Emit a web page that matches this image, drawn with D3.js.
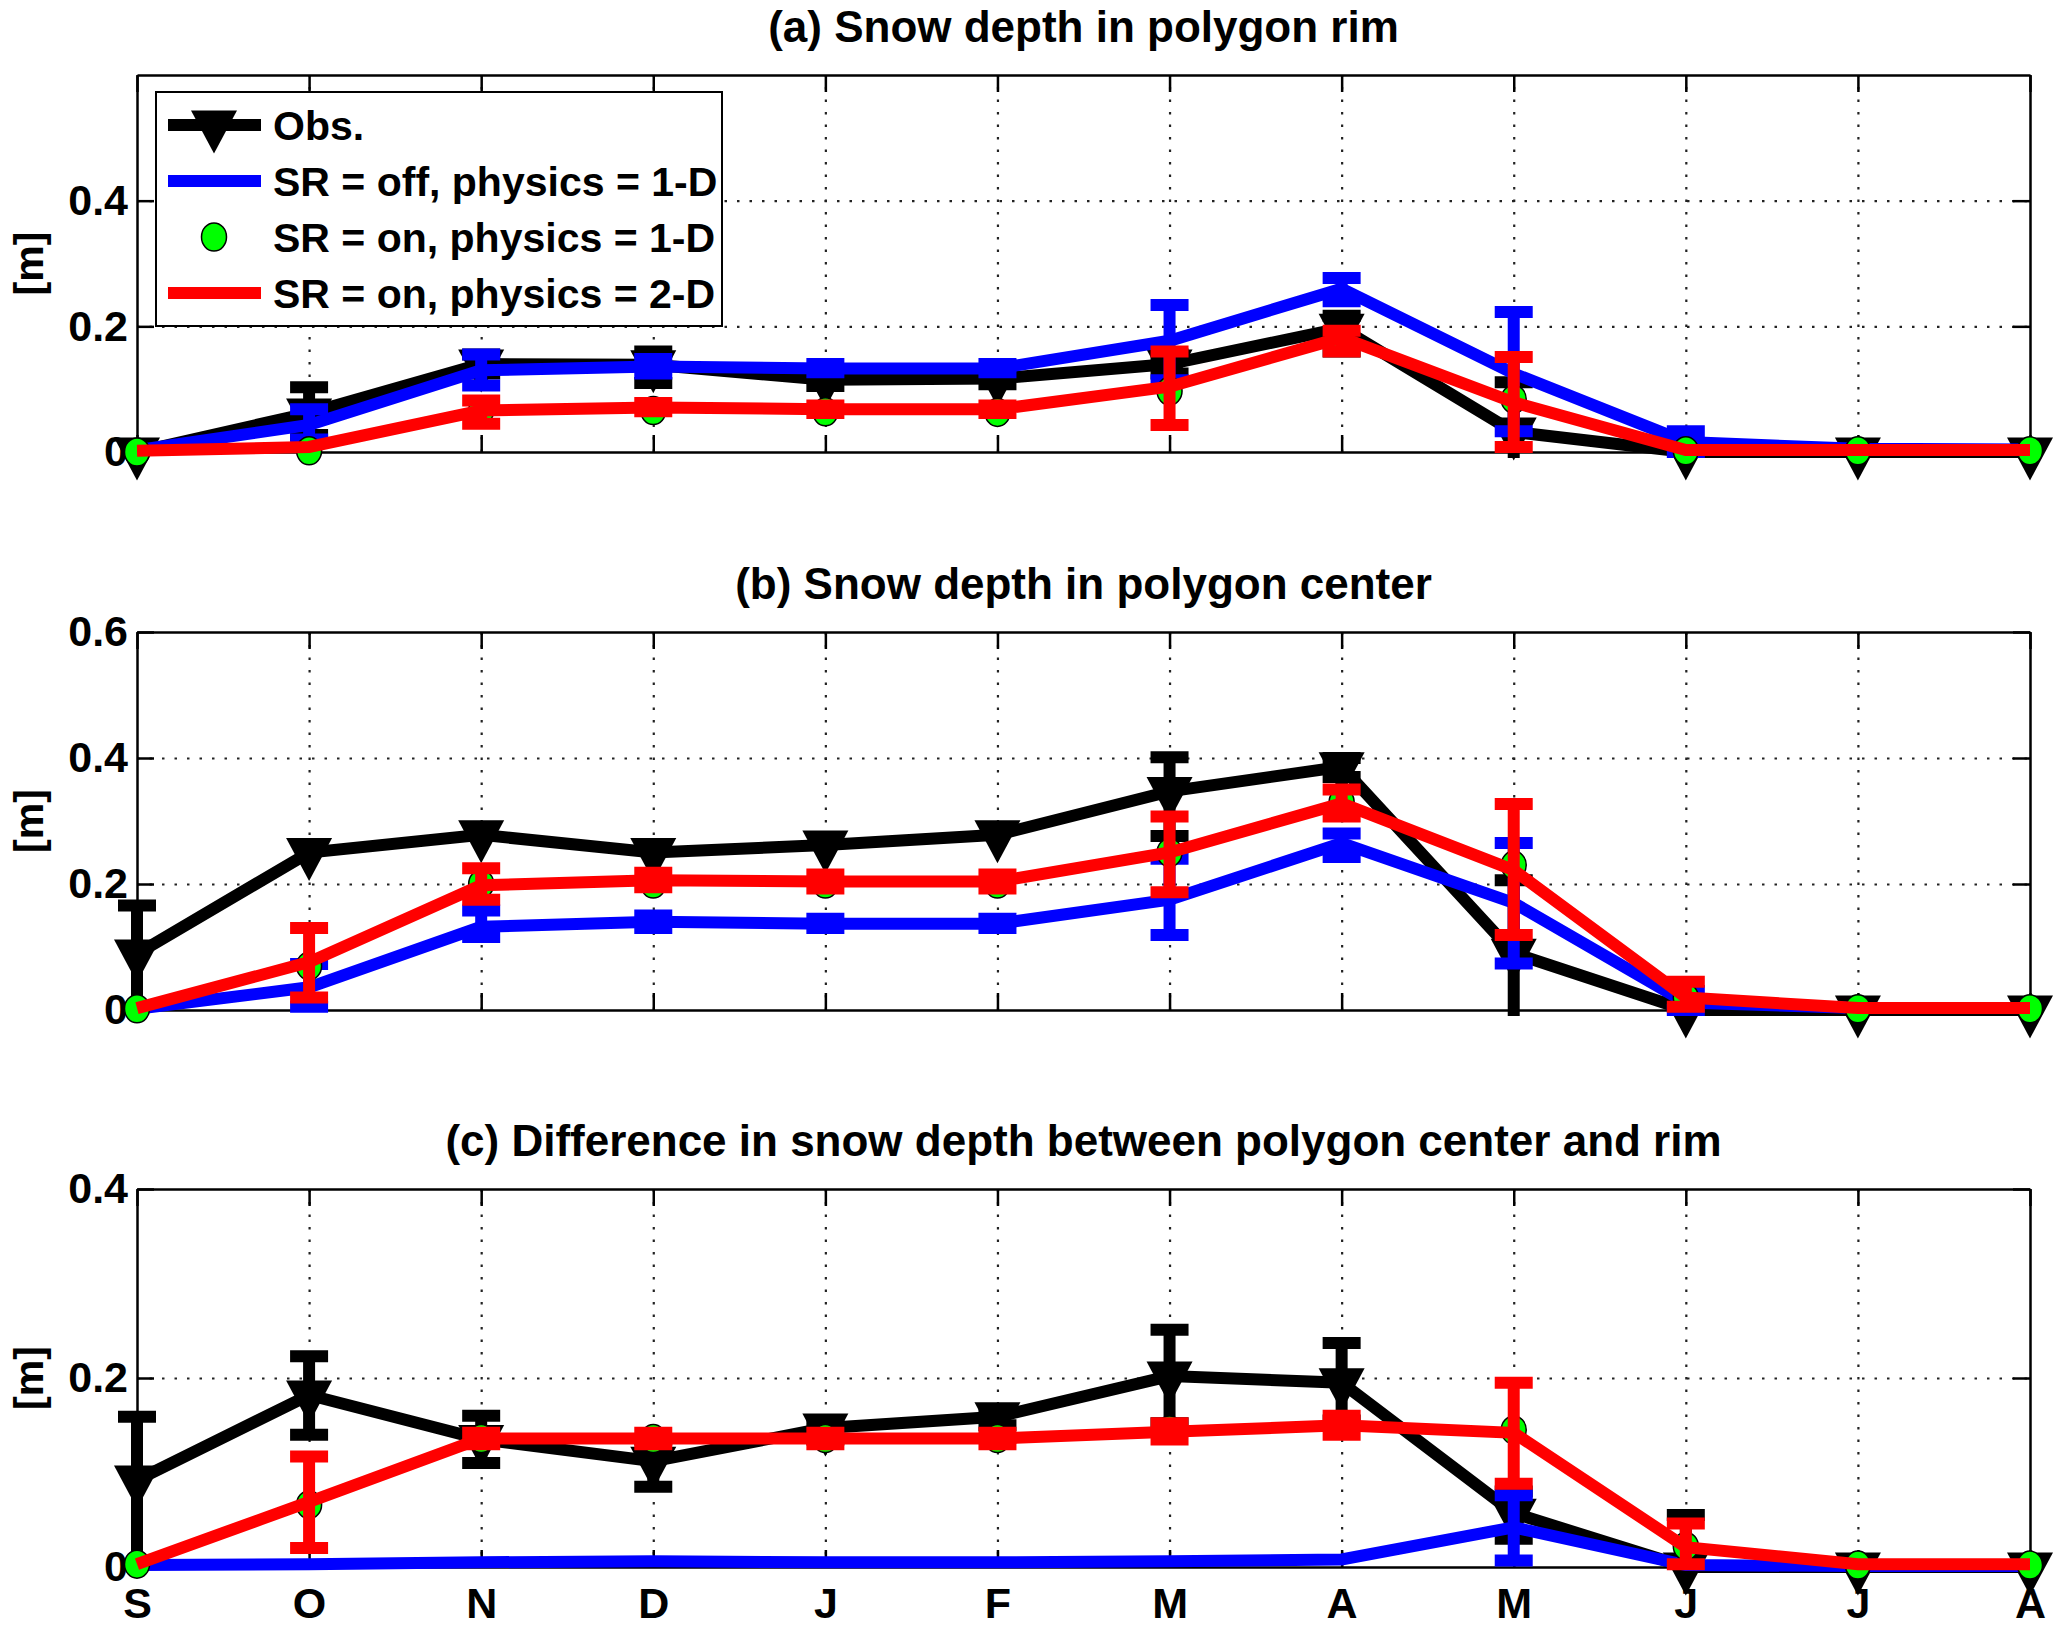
<!DOCTYPE html>
<html>
<head>
<meta charset="utf-8">
<script src="https://cdn.jsdelivr.net/npm/d3@7"></script>
<style>
  body { margin: 0; background: #fff; }
  svg { display: block; font-family: "Liberation Sans", Arial, Helvetica, sans-serif; font-weight: bold; }
</style>
</head>
<body>
<svg id="chart"></svg>
<script>
// month ticks (Sep .. Aug)
const months = ['S', 'O', 'N', 'D', 'J', 'F', 'M', 'A', 'M', 'J', 'J', 'A'];
const seriesNames = ['Obs.', 'SR = off, physics = 1-D', 'SR = on, physics = 1-D', 'SR = on, physics = 2-D'];
const panelTitles = [
  '(a) Snow depth in polygon rim',
  '(b) Snow depth in polygon center',
  '(c) Difference in snow depth between polygon center and rim'
];

// (a) rim
const rimObs    = [0, 0.062, 0.14, 0.139, 0.115, 0.117, 0.14, 0.197, 0.032, 0, 0, 0];
const rimObsLo  = [null, 0.027, 0.125, 0.11, 0.105, 0.108, 0.125, 0.16, -0.05, null, null, null];
const rimObsHi  = [null, 0.103, 0.155, 0.16, 0.125, 0.127, 0.155, 0.217, 0.111, null, null, null];
const rimOff    = [0.003, 0.043, 0.13, 0.136, 0.133, 0.133, 0.177, 0.26, 0.125, 0.016, 0.005, 0.004];
const rimOffLo  = [null, 0.02, 0.106, 0.125, 0.127, 0.127, 0.114, 0.24, 0.033, 0, null, null];
const rimOffHi  = [null, 0.068, 0.155, 0.148, 0.14, 0.14, 0.234, 0.277, 0.223, 0.033, null, null];
const rimOn1d   = [0, 0.002, 0.066, 0.066, 0.064, 0.063, 0.097, 0.18, 0.084, 0.002, 0.002, 0.002];
const rimOn2d   = [0.002, 0.008, 0.066, 0.071, 0.068, 0.068, 0.104, 0.182, 0.079, 0.003, 0.003, 0.003];
const rimOn2dLo = [null, null, 0.045, 0.065, 0.062, 0.062, 0.043, 0.16, 0.008, null, null, null];
const rimOn2dHi = [null, null, 0.082, 0.078, 0.074, 0.074, 0.16, 0.193, 0.151, null, null, null];

// (b) center
const cenObs    = [0.089, 0.25, 0.278, 0.25, 0.262, 0.278, 0.347, 0.386, 0.09, 0, 0, 0];
const cenObsLo  = [-0.05, null, null, null, null, null, 0.276, 0.37, -0.05, null, null, null];
const cenObsHi  = [0.166, null, null, null, null, null, 0.401, 0.4, 0.206, null, null, null];
const cenOff    = [0.002, 0.036, 0.132, 0.14, 0.137, 0.137, 0.175, 0.265, 0.17, 0.012, 0.003, 0.003];
const cenOffLo  = [null, 0.005, 0.116, 0.13, 0.13, 0.13, 0.119, 0.243, 0.074, 0, null, null];
const cenOffHi  = [null, 0.073, 0.158, 0.15, 0.145, 0.145, 0.24, 0.28, 0.265, 0.03, null, null];
const cenOn1d   = [0.002, 0.07, 0.2, 0.2, 0.2, 0.2, 0.25, 0.33, 0.23, 0.02, 0.002, 0.002];
const cenOn2d   = [0.003, 0.076, 0.198, 0.206, 0.204, 0.204, 0.25, 0.328, 0.222, 0.02, 0.003, 0.003];
const cenOn2dLo = [null, 0.02, 0.175, 0.195, 0.193, 0.193, 0.187, 0.307, 0.119, 0.005, null, null];
const cenOn2dHi = [null, 0.13, 0.225, 0.218, 0.215, 0.215, 0.307, 0.35, 0.327, 0.045, null, null];

// (c) center minus rim
const difObs    = [0.092, 0.182, 0.135, 0.112, 0.147, 0.159, 0.202, 0.195, 0.057, 0, 0, 0];
const difObsLo  = [-0.05, 0.14, 0.11, 0.085, 0.135, 0.15, 0.152, 0.155, 0.03, -0.05, null, null];
const difObsHi  = [0.159, 0.223, 0.16, 0.135, 0.155, 0.165, 0.251, 0.237, 0.08, 0.055, null, null];
const difOff    = [0.002, 0.003, 0.005, 0.006, 0.005, 0.005, 0.006, 0.008, 0.042, 0.002, 0.001, 0.001];
const difOffLo  = [null, null, null, null, null, null, null, null, 0.007, null, null, null];
const difOffHi  = [null, null, null, null, null, null, null, null, 0.076, null, null, null];
const difOn1d   = [0.003, 0.066, 0.136, 0.136, 0.136, 0.136, 0.145, 0.152, 0.145, 0.022, 0.002, 0.002];
const difOn2d   = [0.003, 0.069, 0.136, 0.136, 0.136, 0.136, 0.143, 0.15, 0.142, 0.021, 0.003, 0.003];
const difOn2dLo = [null, 0.02, 0.13, 0.13, 0.13, 0.13, 0.135, 0.14, 0.088, 0.003, null, null];
const difOn2dHi = [null, 0.117, 0.142, 0.142, 0.142, 0.142, 0.152, 0.16, 0.195, 0.046, null, null];

const width = 2067, height = 1637;
const svg = d3.select('#chart').attr('width', width).attr('height', height);

const x = d3.scaleLinear().domain([0, 11]).range([137, 2030]);
const lw = 12;       // data line width
const capW = 38;     // error bar cap width
const tick = 17;

const panels = [
  { title: panelTitles[0], top: 75, bottom: 452, ymax: 0.6, yticks: [0, 0.2, 0.4],
    obs: [rimObs, rimObsLo, rimObsHi], off: [rimOff, rimOffLo, rimOffHi], on1d: rimOn1d,
    on2d: [rimOn2d, rimOn2dLo, rimOn2dHi], xlabels: false, legend: true },
  { title: panelTitles[1], top: 632, bottom: 1010, ymax: 0.6, yticks: [0, 0.2, 0.4, 0.6],
    obs: [cenObs, cenObsLo, cenObsHi], off: [cenOff, cenOffLo, cenOffHi], on1d: cenOn1d,
    on2d: [cenOn2d, cenOn2dLo, cenOn2dHi], xlabels: false, legend: false },
  { title: panelTitles[2], top: 1189, bottom: 1567, ymax: 0.4, yticks: [0, 0.2, 0.4],
    obs: [difObs, difObsLo, difObsHi], off: [difOff, difOffLo, difOffHi], on1d: difOn1d,
    on2d: [difOn2d, difOn2dLo, difOn2dHi], xlabels: true, legend: false }
];

const triangle = 'M-23,-14.5L23,-14.5L0,28.5Z';

function errorBars(g, y, lo, hi, color) {
  const idx = d3.range(lo.length).filter(i => lo[i] != null);
  const eb = g.append('g').attr('stroke', color).attr('stroke-width', lw);
  eb.selectAll('line.stem').data(idx).join('line').attr('class', 'stem')
    .attr('x1', i => x(i)).attr('x2', i => x(i))
    .attr('y1', i => y(lo[i])).attr('y2', i => y(hi[i]));
  const caps = idx.flatMap(i => [[i, lo[i]], [i, hi[i]]]);
  eb.selectAll('line.cap').data(caps).join('line').attr('class', 'cap')
    .attr('x1', d => x(d[0]) - capW / 2).attr('x2', d => x(d[0]) + capW / 2)
    .attr('y1', d => y(d[1])).attr('y2', d => y(d[1]));
}

function dataLine(g, y, vals, color) {
  const line = d3.line().x((d, i) => x(i)).y(d => y(d));
  g.append('path').datum(vals).attr('d', line).attr('fill', 'none')
    .attr('stroke', color).attr('stroke-width', lw).attr('stroke-linejoin', 'miter');
}

panels.forEach((p, k) => {
  const g = svg.append('g');
  const y = d3.scaleLinear().domain([0, p.ymax]).range([p.bottom, p.top]);
  const h = p.bottom - p.top;

  // lines and error bars are clipped to the axes (markers are not)
  svg.append('clipPath').attr('id', `clip${k}`).append('rect')
    .attr('x', x(0) - 30).attr('y', p.top - lw / 2)
    .attr('width', x(11) - x(0) + 60).attr('height', h + lw);

  // dotted grid
  g.append('g').attr('transform', `translate(0,${p.bottom})`)
    .call(d3.axisBottom(x).tickValues(d3.range(1, 11)).tickSize(-h).tickFormat(''))
    .call(a => a.select('.domain').remove())
    .selectAll('line').attr('stroke', '#222').attr('stroke-width', 2.2).attr('stroke-dasharray', '2.5,10');
  g.append('g').attr('transform', `translate(${x(0)},0)`)
    .call(d3.axisLeft(y).tickValues(p.yticks.filter(v => v > 0 && v < p.ymax)).tickSize(-(x(11) - x(0))).tickFormat(''))
    .call(a => a.select('.domain').remove())
    .selectAll('line').attr('stroke', '#222').attr('stroke-width', 2.2).attr('stroke-dasharray', '2.5,10');

  // axes box with inward ticks
  const axes = [
    g.append('g').attr('transform', `translate(0,${p.bottom})`)
      .call(d3.axisBottom(x).tickValues(d3.range(12)).tickSizeInner(-tick).tickSizeOuter(0).tickPadding(20)
        .tickFormat(i => p.xlabels ? months[i] : '')),
    g.append('g').attr('transform', `translate(0,${p.top})`)
      .call(d3.axisTop(x).tickValues(d3.range(12)).tickSizeInner(-tick).tickSizeOuter(0).tickFormat('')),
    g.append('g').attr('transform', `translate(${x(0)},0)`)
      .call(d3.axisLeft(y).tickValues(p.yticks).tickSizeInner(-tick).tickSizeOuter(0).tickPadding(9)
        .tickFormat(d => d === 0 ? '0' : d3.format('.1f')(d))),
    g.append('g').attr('transform', `translate(${x(11)},0)`)
      .call(d3.axisRight(y).tickValues(p.yticks).tickSizeInner(-tick).tickSizeOuter(0).tickFormat(''))
  ];
  axes.forEach(a => {
    a.select('.domain').attr('stroke', '#000').attr('stroke-width', 2.5);
    a.selectAll('line').attr('stroke', '#000').attr('stroke-width', 2.5);
    a.selectAll('text').attr('font-size', 43).attr('font-family', null).attr('fill', '#000');
  });

  // title and y label
  g.append('text').attr('x', (x(0) + x(11)) / 2).attr('y', p.top - 33)
    .attr('text-anchor', 'middle').attr('font-size', 44).text(p.title);
  g.append('text').attr('transform', `translate(43,${(p.top + p.bottom) / 2}) rotate(-90)`)
    .attr('text-anchor', 'middle').attr('font-size', 41).text('[m]');

  const dg = g.append('g');
  const clipped = () => dg.append('g').attr('clip-path', `url(#clip${k})`);

  // Obs.
  const obsG = clipped();
  errorBars(obsG, y, p.obs[1], p.obs[2], '#000');
  dataLine(obsG, y, p.obs[0], '#000');
  dg.append('g').selectAll('path').data(p.obs[0]).join('path')
    .attr('transform', (d, i) => `translate(${x(i)},${y(d)})`).attr('d', triangle).attr('fill', '#000');

  // SR off, 1-D
  const offG = clipped();
  errorBars(offG, y, p.off[1], p.off[2], '#0000ff');
  dataLine(offG, y, p.off[0], '#0000ff');

  // SR on, 1-D (markers only)
  dg.append('g').selectAll('ellipse').data(p.on1d).join('ellipse')
    .attr('cx', (d, i) => x(i)).attr('cy', d => y(d)).attr('rx', 12.5).attr('ry', 14)
    .attr('fill', '#00ff00').attr('stroke', '#000').attr('stroke-width', 1.5);

  // SR on, 2-D
  const on2G = clipped();
  errorBars(on2G, y, p.on2d[1], p.on2d[2], '#ff0000');
  dataLine(on2G, y, p.on2d[0], '#ff0000');

  if (p.legend) {
    const lg = g.append('g').attr('transform', 'translate(156,92)');
    lg.append('rect').attr('width', 566).attr('height', 234).attr('fill', '#fff')
      .attr('stroke', '#000').attr('stroke-width', 2);
    const rows = lg.selectAll('g.row').data(seriesNames).join('g').attr('class', 'row')
      .attr('transform', (d, i) => `translate(0,${33 + i * 56})`);
    rows.each(function (d, i) {
      const r = d3.select(this);
      if (i === 0) {
        r.append('line').attr('x1', 12).attr('x2', 105).attr('stroke', '#000').attr('stroke-width', lw);
        r.append('path').attr('d', triangle).attr('transform', 'translate(58,0)').attr('fill', '#000');
      } else if (i === 2) {
        r.append('ellipse').attr('cx', 58).attr('rx', 12.5).attr('ry', 14)
          .attr('fill', '#00ff00').attr('stroke', '#000').attr('stroke-width', 1.5);
      } else {
        r.append('line').attr('x1', 12).attr('x2', 105)
          .attr('stroke', i === 1 ? '#0000ff' : '#ff0000').attr('stroke-width', lw);
      }
      r.append('text').attr('x', 117).attr('y', 15).attr('font-size', 41).text(d);
    });
  }
});
</script>
</body>
</html>
